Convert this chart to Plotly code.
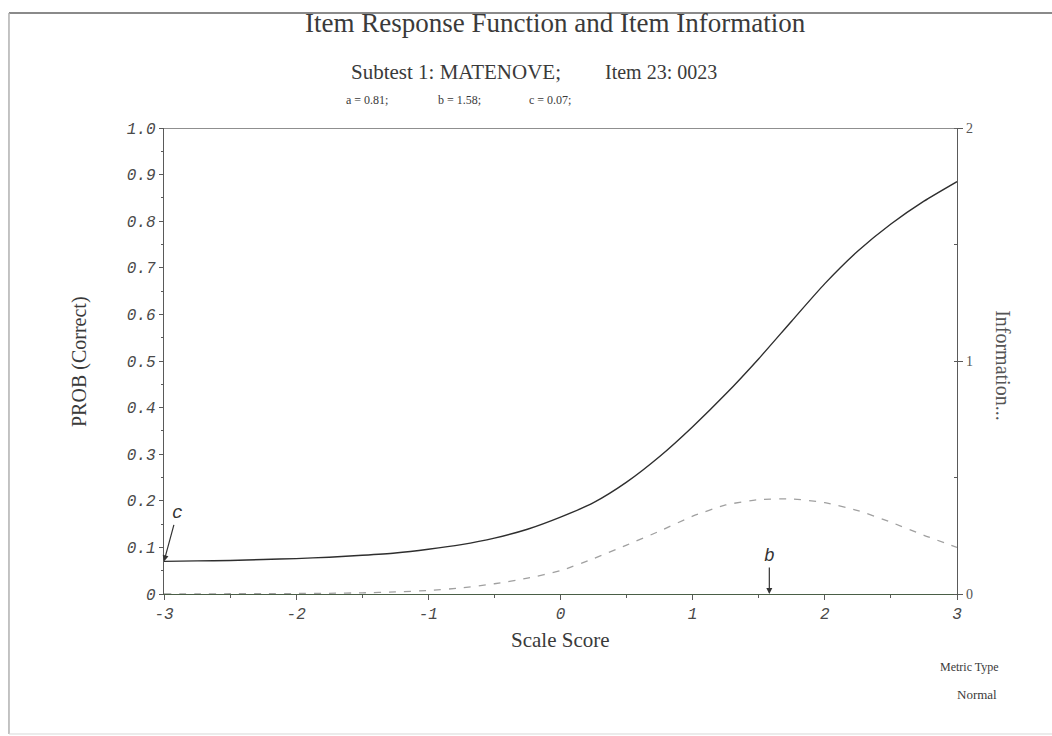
import plotly.graph_objects as go

# Scale score grid and the two curves read at each point
theta = [-3.0, -2.75, -2.5, -2.25, -2.0, -1.75, -1.5, -1.25, -1.0, -0.75, -0.5, -0.25,
         0.0, 0.25, 0.5, 0.75, 1.0, 1.25, 1.5, 1.75, 2.0, 2.25, 2.5, 2.75, 3.0]
prob_correct = [0.070, 0.071, 0.072, 0.074, 0.076, 0.079, 0.083, 0.088, 0.096, 0.106, 0.120, 0.139,
                0.165, 0.196, 0.240, 0.295, 0.359, 0.429, 0.505, 0.586, 0.666, 0.736, 0.794, 0.843, 0.885]
information = [0.000, 0.000, 0.001, 0.001, 0.002, 0.003, 0.005, 0.009, 0.015, 0.026, 0.044, 0.068,
               0.100, 0.152, 0.210, 0.270, 0.334, 0.382, 0.405, 0.408, 0.392, 0.358, 0.308, 0.252, 0.200]

# Item parameters
param_a = 0.81
param_b = 1.58
param_c = 0.07

left_tickvals = [0, 0.1, 0.2, 0.3, 0.4, 0.5, 0.6, 0.7, 0.8, 0.9, 1.0]
left_ticktext = ["0", "0.1", "0.2", "0.3", "0.4", "0.5", "0.6", "0.7", "0.8", "0.9", "1.0"]
x_tickvals = [-3, -2, -1, 0, 1, 2, 3]
x_ticktext = ["-3", "-2", "-1", "0", "1", "2", "3"]
right_tickvals = [0, 1, 2]
right_ticktext = ["0", "1", "2"]

SERIF = "Liberation Serif, Times New Roman, serif"
MONO = "Liberation Mono, DejaVu Sans Mono, monospace"
TEXT = "#3a3a3a"
AXIS = "#5a5a5a"

fig = go.Figure()

fig.add_trace(go.Scatter(
    x=theta, y=prob_correct, mode="lines",
    line=dict(color="#2e2e2e", width=1.4, shape="spline", smoothing=0.6),
    hoverinfo="skip", showlegend=False,
))
fig.add_trace(go.Scatter(
    x=theta, y=information, mode="lines", yaxis="y2",
    line=dict(color="#a0a0a0", width=1.3, dash="7px,8px", shape="spline", smoothing=0.6),
    hoverinfo="skip", showlegend=False,
))

tick_font = dict(family=MONO, size=16, color="#4a4a4a", style="italic")

fig.update_layout(
    width=1052, height=736,
    margin=dict(l=164, r=95, t=128, b=142),
    paper_bgcolor="white", plot_bgcolor="white",
    xaxis=dict(
        range=[-3, 3], showgrid=False, zeroline=False,
        showline=True, linecolor="#4a5e46", linewidth=1.4,
        tickmode="array", tickvals=x_tickvals, ticktext=x_ticktext,
        ticks="outside", ticklen=5, tickcolor=AXIS, tickwidth=1,
        minor=dict(dtick=0.5, ticks="outside", ticklen=3, tickcolor=AXIS),
        tickfont=tick_font,
    ),
    yaxis=dict(
        range=[0, 1], showgrid=False, zeroline=False,
        showline=True, linecolor=AXIS, linewidth=1.3,
        tickmode="array", tickvals=left_tickvals, ticktext=left_ticktext,
        ticks="outside", ticklen=4, tickcolor=AXIS, tickwidth=1,
        minor=dict(dtick=0.05, ticks="outside", ticklen=2, tickcolor=AXIS),
        tickfont=tick_font,
    ),
    yaxis2=dict(
        range=[0, 2], overlaying="y", side="right", showgrid=False, zeroline=False,
        showline=True, linecolor=AXIS, linewidth=1.3,
        tickmode="array", tickvals=right_tickvals, ticktext=right_ticktext,
        ticks="outside", ticklen=5, tickcolor=AXIS, tickwidth=1,
        minor=dict(dtick=0.5, ticks="inside", ticklen=3, tickcolor=AXIS),
        tickfont=dict(family=SERIF, size=14, color="#555555"),
    ),
)

# Top frame line of the plotting area
fig.add_shape(type="line", xref="x", yref="y", x0=-3, x1=3.05, y0=1, y1=1,
              line=dict(color="#6a6a6a", width=1.5))

# Outer page border
fig.add_shape(type="line", xref="paper", yref="paper", x0=-0.1955, x1=1.2, y0=1.2468, y1=1.2468,
              line=dict(color="#8a8a8a", width=2))
fig.add_shape(type="line", xref="paper", yref="paper", x0=-0.1955, x1=-0.1955, y0=1.2468, y1=-0.3004,
              line=dict(color="#b0b0b0", width=1.5))
fig.add_shape(type="line", xref="paper", yref="paper", x0=-0.1955, x1=1.2, y0=-0.3004, y1=-0.3004,
              line=dict(color="#d8d8d8", width=1))


def label(text, x, y, size, xanchor="center", angle=0, font=SERIF, color=TEXT):
    fig.add_annotation(text=text, x=x, y=y, xref="paper", yref="paper",
                       xanchor=xanchor, yanchor="middle", showarrow=False,
                       textangle=angle, font=dict(family=font, size=size, color=color))


label("Item Response Function and Item Information", 0.4943, 1.2253, 27)
label("Subtest 1: MATENOVE;", 0.368, 1.1202, 21)
label("Item 23: 0023", 0.6267, 1.1202, 20)
label(f"a = {param_a:.2f};", 0.2566, 1.0601, 12)
label(f"b = {param_b:.2f};", 0.3726, 1.0601, 12)
label(f"c = {param_c:.2f};", 0.4868, 1.0601, 12)
label("PROB (Correct)", -0.1059, 0.4979, 20, angle=-90)
label("Information...", 1.058, 0.489, 20, angle=90, color="#555555")
label("Scale Score", 0.5006, -0.0987, 21)
label("Metric Type", 1.0555, -0.1567, 12, xanchor="right")
label("Normal", 1.053, -0.2146, 13, xanchor="right")

# Pointers marking the lower asymptote and the difficulty
pointer_font = dict(family=MONO, size=18, color="#333333", style="italic")
fig.add_annotation(x=-3, y=param_c, xref="x", yref="y", text="c",
                   showarrow=True, arrowhead=2, arrowsize=1, arrowwidth=1.2, arrowcolor="#333333",
                   ax=13, ay=-48, font=pointer_font)
fig.add_annotation(x=param_b, y=0, xref="x", yref="y", text="b",
                   showarrow=True, arrowhead=2, arrowsize=1, arrowwidth=1.2, arrowcolor="#333333",
                   ax=0, ay=-38, font=pointer_font)

fig.write_html("out.html")
